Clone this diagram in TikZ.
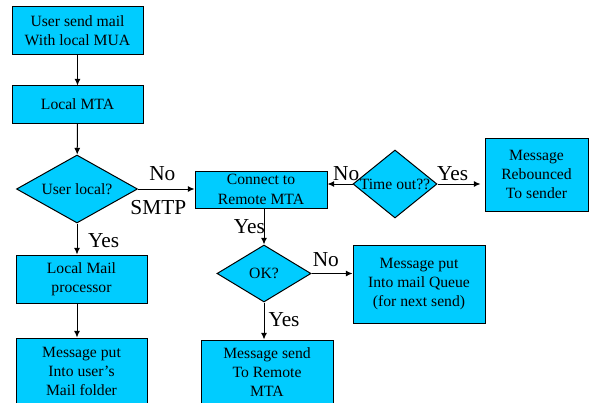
\documentclass[tikz,border=0pt]{standalone}
\usepackage{fontspec}
\setmainfont{Liberation Serif}
\usetikzlibrary{shapes.geometric,arrows.meta}
\definecolor{boxcyan}{RGB}{0,204,255}
\tikzset{every picture/.style={line width=0.75pt}}
\tikzset{
	flowbox/.style={draw, fill=boxcyan, align=center, inner sep=0pt, font=\fontsize{11.75}{14.5}\selectfont},
	flowtest/.style={draw, fill=boxcyan, diamond, inner sep=0pt, font=\fontsize{11.75}{14.5}\selectfont},
	flowarrow/.style={-{Latex[length=5pt,width=4.5pt]}},
	flowlabel/.style={font=\fontsize{16}{18}\selectfont, inner sep=1pt}}

\begin{document}
\begin{tikzpicture}[x=0.75pt,y=0.75pt,yscale=-1,xscale=1]
	\useasboundingbox (0,0) rectangle (589,403);
	\clip (0,0) rectangle (589,403);

	%Shape: Rectangle [id:mua]
	\node[flowbox, minimum width=98.25pt, minimum height=36pt] (mua) at (77.5,31) {User send mail\\With local MUA};
	%Shape: Rectangle [id:mta]
	\node[flowbox, minimum width=98.25pt, minimum height=27.75pt] (mta) at (77.5,104.5) {Local MTA};
	%Shape: Diamond [id:local]
	\node[flowtest, minimum width=90.75pt, minimum height=51pt] (local) at (77,189) {\makebox[0pt]{User local?}};
	%Shape: Rectangle [id:mailproc]
	\node[flowbox, minimum width=98.25pt, minimum height=36pt] (mailproc) at (81.5,279) {Local Mail\\processor};
	%Shape: Rectangle [id:folder]
	\node[flowbox, minimum width=98.25pt, minimum height=50.25pt] (folder) at (81.5,371.5) {Message put\\Into user’s\\Mail folder};
	%Shape: Rectangle [id:connect]
	\node[flowbox, minimum width=99pt, minimum height=27.75pt] (connect) at (261,189.5) {Connect to\\Remote MTA};
	%Shape: Diamond [id:timeout]
	\node[flowtest, minimum width=63pt, minimum height=51pt] (timeout) at (395,184) {\makebox[0pt]{Time out??}};
	%Shape: Rectangle [id:rebounced]
	\node[flowbox, minimum width=77.25pt, minimum height=54.75pt] (rebounced) at (536.5,174.5) {Message\\Rebounced\\To sender};
	%Shape: Diamond [id:ok]
	\node[flowtest, minimum width=70.5pt, minimum height=42.75pt] (ok) at (264,273.5) {\makebox[0pt]{OK?}};
	%Shape: Rectangle [id:queue]
	\node[flowbox, minimum width=99pt, minimum height=58.5pt] (queue) at (419,284) {Message put\\Into mail Queue\\(for next send)};
	%Shape: Rectangle [id:send]
	\node[flowbox, minimum width=99pt, minimum height=48pt] (send) at (267,372) {Message send\\To Remote\\MTA};

	%Straight Lines with arrows
	\draw[flowarrow] (mua) -- (mta);
	\draw[flowarrow] (mta) -- (local);
	\draw[flowarrow] (local.south) -- (local.south |- mailproc.north) node[flowlabel, pos=0.55, right=7pt] (localyes) {Yes};
	\draw[flowarrow] (local.east) -- (local.east -| connect.west) node[flowlabel, pos=0.43, above=4.5pt] (localno) {No} node[flowlabel, pos=0.36, below=7.5pt] (smtp) {SMTP};
	\draw[flowarrow] (mailproc.south -| local.south) -- (folder.north -| local.south);
	\draw[flowarrow] (timeout.west) -- (timeout.west -| connect.east) node[flowlabel, pos=0.25, above=1pt] (timeoutno) {No};
	\draw[flowarrow] (timeout.east) -- ([xshift=-3pt]timeout.east -| rebounced.west) node[flowlabel, pos=0.35, above=1pt] (timeoutyes) {Yes};
	\draw[flowarrow] (ok.north |- connect.south) -- (ok.north) node[flowlabel, pos=0.5, left=-2pt] (connectyes) {Yes};
	\draw[flowarrow] (ok.east) -- (ok.east -| queue.west) node[flowlabel, pos=0.35, above=4pt] (okno) {No};
	\draw[flowarrow] (ok.south) -- (ok.south |- send.north) node[flowlabel, pos=0.45, right=2pt] (okyes) {Yes};

\end{tikzpicture}
\end{document}
